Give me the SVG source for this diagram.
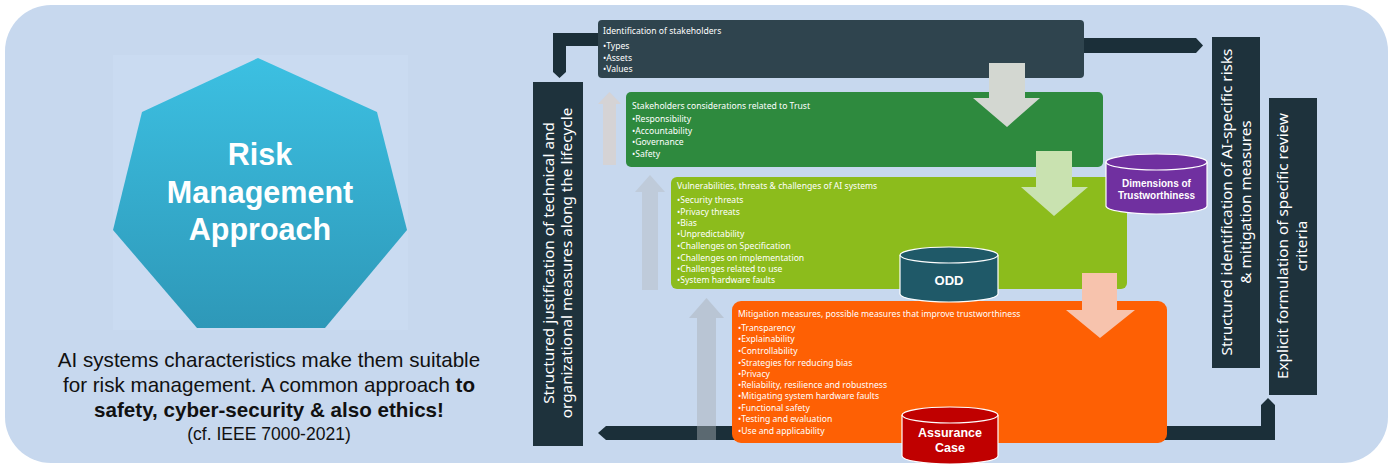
<svg xmlns="http://www.w3.org/2000/svg" width="1394" height="466" viewBox="0 0 1394 466">
<defs>
<linearGradient id="hept" x1="0" y1="0" x2="0" y2="1">
<stop offset="0" stop-color="#3cc0e2"/>
<stop offset="1" stop-color="#2e98b8"/>
</linearGradient>
<style>
.sm{font-family:"Noto Sans","Open Sans",sans-serif;font-size:8.6px;fill:#ffffff}
.bar{fill:#1e323c}
.vt{font-family:"Noto Sans","Open Sans",sans-serif;font-size:15.3px;fill:#ffffff;text-anchor:middle}
.cyl{stroke:#ffffff;stroke-width:1.2}
.ct{font-family:"Liberation Sans",Arial,sans-serif;font-weight:bold;fill:#ffffff;text-anchor:middle}
.conn{fill:#1b2f39}
</style>
</defs>
<rect x="0" y="0" width="1394" height="466" fill="#ffffff"/>
<rect x="5" y="5" width="1383" height="458" rx="46" fill="#c7d8ee"/>

<g id="risk-approach">
<rect x="113" y="55" width="295" height="275" fill="#cadbf1"/>
<polygon points="258,58 377,112 407,230 325,328 197,328 113,230 142,112" fill="url(#hept)"/>
<g font-family="Liberation Sans,Arial,sans-serif" font-weight="bold" font-size="30.5" fill="#ffffff" text-anchor="middle">
<text x="260" y="165">Risk</text>
<text x="260" y="203">Management</text>
<text x="260" y="240">Approach</text>
</g>
</g>

<g id="caption" font-family="Liberation Sans,Arial,sans-serif" fill="#111111" text-anchor="middle">
<text x="269" y="367" font-size="20.6">AI systems characteristics make them suitable</text>
<text x="269" y="392" font-size="20.6">for risk management. A common approach <tspan font-weight="bold">to</tspan></text>
<text x="269" y="417" font-size="20.6" font-weight="bold">safety, cyber-security &amp; also ethics!</text>
<text x="269" y="440" font-size="17.5">(cf. IEEE 7000-2021)</text>
</g>

<g id="connectors">
<path class="conn" d="M600,33 L553,33 L553,72 L559.5,78 L566,72 L566,46 L600,46 Z"/>
<path class="conn" d="M1082,38 L1196,38 L1203,45.5 L1196,53 L1082,53 Z"/>
<path class="conn" d="M740,426 L606,426 L598,433 L606,440 L740,440 Z"/>
<path class="conn" d="M1160,426 L1261,426 L1261,405 L1268,398 L1275,405 L1275,440 L1160,440 Z"/>
</g>

<g id="up-arrows" opacity="0.45">
<path d="M603,165 L603,104 L598,104 L609.5,92 L621,104 L616,104 L616,165 Z" fill="#e6cdb9"/>
<path d="M642,290 L642,192 L635,192 L650,175 L665,192 L658,192 L658,290 Z" fill="#b6bcc2"/>
<path d="M697,440 L697,318 L689,318 L706.5,298 L724,318 L716,318 L716,440 Z" fill="#a9afb5"/>
</g>

<g id="left-bar">
<rect class="bar" x="533" y="82" width="50" height="364"/>
<text class="vt" transform="translate(554,263) rotate(-90)">Structured justification of technical and</text>
<text class="vt" transform="translate(572,263) rotate(-90)">organizational measures along the lifecycle</text>
</g>

<g id="right-bar-1">
<rect class="bar" x="1212" y="37" width="48" height="331"/>
<text class="vt" transform="translate(1232,202) rotate(-90)">Structured identification of AI-specific risks</text>
<text class="vt" transform="translate(1251,202) rotate(-90)">&amp; mitigation measures</text>
</g>

<g id="right-bar-2">
<rect class="bar" x="1269" y="98" width="48" height="297"/>
<text class="vt" transform="translate(1288,246) rotate(-90)">Explicit formulation of specific review</text>
<text class="vt" transform="translate(1307,246) rotate(-90)">criteria</text>
</g>

<g id="stakeholders">
<rect x="598" y="20" width="486" height="58" rx="4" fill="#2f444e"/>
<text class="sm" x="603" y="34">Identification of stakeholders</text>
<text class="sm" x="603" y="49">•Types</text>
<text class="sm" x="603" y="61">•Assets</text>
<text class="sm" x="603" y="72">•Values</text>
</g>

<g id="trust">
<rect x="626" y="92" width="477" height="75" rx="5" fill="#2e8a3e"/>
<text class="sm" x="632" y="109">Stakeholders considerations related to Trust</text>
<text class="sm" x="632" y="122">•Responsibility</text>
<text class="sm" x="632" y="134">•Accountability</text>
<text class="sm" x="632" y="145">•Governance</text>
<text class="sm" x="632" y="157">•Safety</text>
</g>

<g id="vulnerabilities">
<rect x="671" y="177" width="456" height="112" rx="6" fill="#8cbc1c"/>
<text class="sm" x="677" y="189">Vulnerabilities, threats &amp; challenges of AI systems</text>
<text class="sm" x="677" y="203">•Security threats</text>
<text class="sm" x="677" y="215">•Privacy threats</text>
<text class="sm" x="677" y="226">•Bias</text>
<text class="sm" x="677" y="237">•Unpredictability</text>
<text class="sm" x="677" y="249">•Challenges on Specification</text>
<text class="sm" x="677" y="261">•Challenges on implementation</text>
<text class="sm" x="677" y="272">•Challenges related to use</text>
<text class="sm" x="677" y="283">•System hardware faults</text>
</g>

<g id="mitigation">
<rect x="732" y="301" width="435" height="142" rx="9" fill="#fe6004"/>
<text class="sm" x="738" y="317">Mitigation measures, possible measures that improve trustworthiness</text>
<text class="sm" x="738" y="331">•Transparency</text>
<text class="sm" x="738" y="342">•Explainability</text>
<text class="sm" x="738" y="354">•Controllability</text>
<text class="sm" x="738" y="366">•Strategies for reducing bias</text>
<text class="sm" x="738" y="377">•Privacy</text>
<text class="sm" x="738" y="388">•Reliability, resilience and robustness</text>
<text class="sm" x="738" y="399">•Mitigating system hardware faults</text>
<text class="sm" x="738" y="411">•Functional safety</text>
<text class="sm" x="738" y="422">•Testing and evaluation</text>
<text class="sm" x="738" y="434">•Use and applicability</text>
</g>

<g id="flow-arrows">
<path d="M989,63 L1025,63 L1025,98 L1040,98 L1007,127 L973,98 L989,98 Z" fill="#d3d7d1"/>
<path d="M1036,151 L1072,151 L1072,187 L1088,187 L1054,216 L1021,187 L1036,187 Z" fill="#c9e2b0"/>
<path d="M1082,273 L1117,273 L1117,310 L1135,310 L1100,338 L1066,310 L1082,310 Z" fill="#f7c3ad"/>
</g>

<g id="dimensions">
<path class="cyl" d="M1106,162 L1106,206 A50.5,8 0 0 0 1207,206 L1207,162" fill="#7030a0"/>
<ellipse class="cyl" cx="1156.5" cy="162" rx="50.5" ry="8" fill="#7030a0"/>
<text class="ct" x="1156.5" y="187" font-size="10">Dimensions  of</text>
<text class="ct" x="1156.5" y="199" font-size="10">Trustworthiness</text>
</g>

<g id="odd">
<path class="cyl" d="M900,255 L900,294 A49,8 0 0 0 998,294 L998,255" fill="#1f5968"/>
<ellipse class="cyl" cx="949" cy="255" rx="49" ry="8" fill="#1f5968"/>
<text class="ct" x="949" y="285" font-size="13">ODD</text>
</g>

<g id="assurance">
<path class="cyl" d="M902,415 L902,456 A48,8 0 0 0 998,456 L998,415" fill="#c00000"/>
<ellipse class="cyl" cx="950" cy="415" rx="48" ry="8" fill="#c00000"/>
<text class="ct" x="950" y="437" font-size="12.5">Assurance</text>
<text class="ct" x="950" y="452" font-size="12.5">Case</text>
</g>
</svg>
